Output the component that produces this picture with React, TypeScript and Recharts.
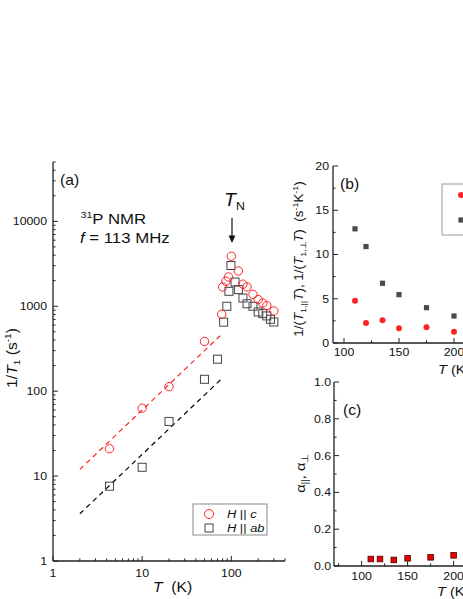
import React from 'react';
import { ComposedChart, Scatter, Line, XAxis, YAxis } from 'recharts';

const FONT = "Arial, 'Liberation Sans', Helvetica, sans-serif";
const SX = 1.12;
const TXT = '#111111';
const AXIS = '#222222';
const RED = '#ff2424';
const GRAY = '#444444';

// ---------- Panel (a): 1/T1 vs T (log-log) ----------
const tempHc = [4.3, 10, 20, 50, 78, 80, 87, 93, 100, 120, 135, 150, 175, 200, 225, 250, 300];
const rateHc = [21, 63, 113, 385, 805, 1690, 1970, 2210, 3880, 2600, 1820, 1690, 1380, 1200, 1090, 1020, 880];
const tempHab = [4.3, 10, 20, 50, 70, 82, 89, 94, 99, 110, 120, 135, 150, 175, 200, 225, 250, 275, 300];
const rateHab = [7.6, 12.7, 44, 138, 238, 650, 1000, 1500, 3020, 1930, 1570, 1250, 1070, 1000, 857, 820, 770, 703, 653];
const fitHcT = [2, 75];
const fitHcRate = [12, 450];
const fitHabT = [2, 80];
const fitHabRate = [3.6, 144];
const aXTicks = [1, 2, 3, 4, 5, 6, 7, 8, 9, 10, 20, 30, 40, 50, 60, 70, 80, 90, 100, 200, 300, 400];
const aXLabels = [1, 10, 100];
const aYTicks = [
  1, 2, 3, 4, 5, 6, 7, 8, 9, 10, 20, 30, 40, 50, 60, 70, 80, 90,
  100, 200, 300, 400, 500, 600, 700, 800, 900, 1000, 2000, 3000, 4000, 5000, 6000, 7000, 8000, 9000,
  10000, 20000, 30000, 40000, 50000,
];
const aYLabels = [1, 10, 100, 1000, 10000];

// ---------- Panel (b): 1/(T1 T) vs T ----------
const tempB = [110, 120, 135, 150, 175, 200];
const ratePar = [4.78, 2.26, 2.56, 1.66, 1.77, 1.28];
const ratePerp = [12.9, 10.9, 6.75, 5.46, 3.99, 3.05];
const bXTicks = [100, 125, 150, 175, 200, 225, 250, 275, 300];
const bXLabels = [100, 150, 200, 250, 300];
const bYTicks = [0, 2.5, 5, 7.5, 10, 12.5, 15, 17.5, 20];
const bYLabels = [0, 5, 10, 15, 20];

// ---------- Panel (c): alpha vs T ----------
const tempAlpha = [110, 120, 135, 150, 175, 200];
const alphaVals = [0.038, 0.038, 0.033, 0.042, 0.047, 0.058];
const cXTicks = [75, 100, 125, 150, 175, 200, 225, 250, 275, 300];
const cXLabels = [100, 150, 200, 250, 300];
const cYTicks = [0, 0.1, 0.2, 0.3, 0.4, 0.5, 0.6, 0.7, 0.8, 0.9, 1.0];
const cYLabels = [0, 0.2, 0.4, 0.6, 0.8, 1.0];

const zip = (xs: number[], ys: number[]) => xs.map((T, i) => ({ T, v: ys[i] }));

const Txt = ({ x, y, size, anchor = 'start', children }: any) => (
  <text
    transform={`translate(${x},${y}) scale(${SX},1)`}
    textAnchor={anchor}
    fontSize={size}
    fontFamily={FONT}
    fill={TXT}
  >
    {children}
  </text>
);

const VTxt = ({ x, y, size, children }: any) => (
  <text
    transform={`translate(${x},${y}) rotate(-90) scale(${SX},1)`}
    textAnchor="middle"
    fontSize={size}
    fontFamily={FONT}
    fill={TXT}
  >
    {children}
  </text>
);

const isIn = (arr: number[], v: number) => arr.some((l) => Math.abs(l - v) < 1e-9);

const makeTick =
  (side: 'bottom' | 'left' | 'top' | 'right', labels: number[], fmt: (v: number) => string, gap: number, size = 11) =>
  (props: any) => {
    const { x, y, payload } = props;
    const v = payload.value;
    const major = isIn(labels, v);
    const len = major ? 5 : 2.6;
    let line: any = null;
    if (side === 'bottom') line = <line x1={x} x2={x} y1={y} y2={y - len} stroke={AXIS} strokeWidth={1} />;
    if (side === 'top') line = <line x1={x} x2={x} y1={y} y2={y + len} stroke={AXIS} strokeWidth={1} />;
    if (side === 'left') line = <line x1={x} x2={x + len} y1={y} y2={y} stroke={AXIS} strokeWidth={1} />;
    if (side === 'right') line = <line x1={x} x2={x - len} y1={y} y2={y} stroke={AXIS} strokeWidth={1} />;
    let label: any = null;
    if (major && side === 'bottom')
      label = (
        <Txt x={x} y={y + gap} size={size} anchor="middle">
          {fmt(v)}
        </Txt>
      );
    if (major && side === 'left')
      label = (
        <Txt x={x - gap} y={y + size * 0.36} size={size} anchor="end">
          {fmt(v)}
        </Txt>
      );
    return (
      <g>
        {line}
        {label}
      </g>
    );
  };

const axisLine = { stroke: AXIS, strokeWidth: 1.3 };
const intFmt = (v: number) => String(v);
const oneDec = (v: number) => v.toFixed(1);

const openCircle = (props: any) => (
  <circle cx={props.cx} cy={props.cy} r={4.2} fill="none" stroke={RED} strokeWidth={1} />
);
const openSquare = (props: any) => (
  <rect x={props.cx - 4} y={props.cy - 4} width={8} height={8} fill="none" stroke={GRAY} strokeWidth={1} />
);
const dotRed = (props: any) => <circle cx={props.cx} cy={props.cy} r={3} fill={RED} stroke="none" />;
const dotGray = (props: any) => (
  <rect x={props.cx - 2.6} y={props.cy - 2.6} width={5.2} height={5.2} fill="#4a4a4a" stroke="none" />
);
const sqRed = (props: any) => (
  <rect x={props.cx - 2.8} y={props.cy - 2.8} width={5.6} height={5.6} fill="#e80000" stroke="#550000" strokeWidth={0.8} />
);

function PanelA() {
  return (
    <ComposedChart width={300} height={599} margin={{ top: 162, right: 15, bottom: 0, left: 0 }}>
      <XAxis
        dataKey="T"
        type="number"
        scale="log"
        domain={[1, 400]}
        allowDataOverflow
        ticks={aXTicks}
        interval={0}
        tickLine={false}
        tickSize={0}
        tickMargin={0}
        height={38}
        axisLine={axisLine}
        tick={makeTick('bottom', aXLabels, intFmt, 15.5)}
      />
      <XAxis
        xAxisId="top"
        orientation="top"
        type="number"
        scale="log"
        domain={[1, 400]}
        allowDataOverflow
        ticks={aXTicks}
        interval={0}
        tickLine={false}
        tickSize={0}
        tickMargin={0}
        height={0}
        axisLine={axisLine}
        tick={makeTick('top', aXLabels, intFmt, 0)}
      />
      <YAxis
        type="number"
        scale="log"
        domain={[1, 50000]}
        allowDataOverflow
        ticks={aYTicks}
        interval={0}
        tickLine={false}
        tickSize={0}
        tickMargin={0}
        width={53}
        axisLine={axisLine}
        tick={makeTick('left', aYLabels, intFmt, 6)}
      />
      <YAxis
        yAxisId="right"
        orientation="right"
        type="number"
        scale="log"
        domain={[1, 50000]}
        allowDataOverflow
        ticks={aYTicks}
        interval={0}
        tickLine={false}
        tickSize={0}
        tickMargin={0}
        width={0}
        axisLine={axisLine}
        tick={makeTick('right', aYLabels, intFmt, 0)}
      />
      <Line
        data={zip(fitHcT, fitHcRate)}
        dataKey="v"
        stroke={RED}
        strokeWidth={1.2}
        strokeDasharray="5 4"
        dot={false}
        isAnimationActive={false}
      />
      <Line
        data={zip(fitHabT, fitHabRate)}
        dataKey="v"
        stroke="#000"
        strokeWidth={1.2}
        strokeDasharray="5 4"
        dot={false}
        isAnimationActive={false}
      />
      <Scatter data={zip(tempHab, rateHab)} dataKey="v" shape={openSquare} isAnimationActive={false} />
      <Scatter data={zip(tempHc, rateHc)} dataKey="v" shape={openCircle} isAnimationActive={false} />

      <Txt x={60} y={184.5} size={14}>(a)</Txt>
      <Txt x={80.5} y={224} size={15}>
        <tspan fontSize={9.5} dy={-6}>31</tspan>
        <tspan dy={6}>P NMR</tspan>
      </Txt>
      <Txt x={80} y={243} size={15}>
        <tspan fontStyle="italic">f</tspan> = 113 MHz
      </Txt>
      <Txt x={224} y={206} size={17.5}>
        <tspan fontStyle="italic">T</tspan>
        <tspan fontSize={11} dy={4}>N</tspan>
      </Txt>
      <line x1={232} y1={218} x2={232} y2={238} stroke={TXT} strokeWidth={1.2} />
      <path d="M228.6,235.5 L235.4,235.5 L232,243 Z" fill={TXT} />

      <rect x={193} y={504} width={74} height={31} fill="#fff" stroke="#8a8a8a" strokeWidth={1} />
      <circle cx={209} cy={514} r={4.5} fill="none" stroke={RED} strokeWidth={1} />
      <Txt x={227} y={518.2} size={11.5}>
        <tspan fontStyle="italic">H</tspan> || <tspan fontStyle="italic">c</tspan>
      </Txt>
      <rect x={205} y={524} width={8} height={8} fill="none" stroke={GRAY} strokeWidth={1} />
      <Txt x={227} y={532.2} size={11.5}>
        <tspan fontStyle="italic">H</tspan> || <tspan fontStyle="italic">ab</tspan>
      </Txt>

      <VTxt x={16.5} y={358} size={14}>
        <tspan>1/</tspan>
        <tspan fontStyle="italic">T</tspan>
        <tspan fontSize={9} dy={3}>1</tspan>
        <tspan dy={-3}>{'\u00A0(s'}</tspan>
        <tspan fontSize={9} dy={-6}>-1</tspan>
        <tspan dy={6}>)</tspan>
      </VTxt>
      <Txt x={153} y={592} size={14}>
        <tspan fontStyle="italic">T</tspan>
        <tspan>{'\u00A0\u00A0(K)'}</tspan>
      </Txt>
    </ComposedChart>
  );
}

function PanelB() {
  // chart origin at page (290, 140)
  return (
    <ComposedChart width={300} height={240} margin={{ top: 26, right: 26, bottom: 0, left: 0 }}>
      <XAxis
        dataKey="T"
        type="number"
        domain={[90, 300]}
        allowDataOverflow
        ticks={bXTicks}
        interval={0}
        tickLine={false}
        tickSize={0}
        tickMargin={0}
        height={37}
        axisLine={axisLine}
        tick={makeTick('bottom', bXLabels, intFmt, 12.5)}
      />
      <XAxis
        xAxisId="top"
        orientation="top"
        type="number"
        domain={[90, 300]}
        allowDataOverflow
        ticks={bXTicks}
        interval={0}
        tickLine={false}
        tickSize={0}
        tickMargin={0}
        height={0}
        axisLine={axisLine}
        tick={makeTick('top', bXLabels, intFmt, 0)}
      />
      <YAxis
        type="number"
        domain={[0, 20]}
        allowDataOverflow
        ticks={bYTicks}
        interval={0}
        tickLine={false}
        tickSize={0}
        tickMargin={0}
        width={43}
        axisLine={axisLine}
        tick={makeTick('left', bYLabels, intFmt, 4)}
      />
      <YAxis
        yAxisId="right"
        orientation="right"
        type="number"
        domain={[0, 20]}
        allowDataOverflow
        ticks={bYTicks}
        interval={0}
        tickLine={false}
        tickSize={0}
        tickMargin={0}
        width={0}
        axisLine={axisLine}
        tick={makeTick('right', bYLabels, intFmt, 0)}
      />
      <Scatter data={zip(tempB, ratePerp)} dataKey="v" shape={dotGray} isAnimationActive={false} />
      <Scatter data={zip(tempB, ratePar)} dataKey="v" shape={dotRed} isAnimationActive={false} />

      <Txt x={50} y={49} size={14}>(b)</Txt>
      <rect x={152} y={44} width={200} height={51} fill="#fff" stroke="#9a9a9a" strokeWidth={1} />
      <circle cx={171} cy={55} r={3} fill={RED} />
      <rect x={168.4} y={77.4} width={5.2} height={5.2} fill="#4a4a4a" />

      <VTxt x={13} y={119} size={12}>
        <tspan>1/(</tspan>
        <tspan fontStyle="italic">T</tspan>
        <tspan fontSize={8} dy={3}>1,||</tspan>
        <tspan dy={-3} fontStyle="italic">T</tspan>
        <tspan>), 1/(</tspan>
        <tspan fontStyle="italic">T</tspan>
        <tspan fontSize={8} dy={3}>1,⊥</tspan>
        <tspan dy={-3} fontStyle="italic">T</tspan>
        <tspan>{')\u00A0\u00A0(s'}</tspan>
        <tspan fontSize={8} dy={-5}>-1</tspan>
        <tspan dy={5}>K</tspan>
        <tspan fontSize={8} dy={-5}>-1</tspan>
        <tspan dy={5}>)</tspan>
      </VTxt>
      <Txt x={148} y={234} size={13}>
        <tspan fontStyle="italic">T</tspan>
        <tspan> (K)</tspan>
      </Txt>
    </ComposedChart>
  );
}

function PanelC() {
  // chart origin at page (290, 370)
  return (
    <ComposedChart width={300} height={229} margin={{ top: 12, right: 26, bottom: 0, left: 0 }}>
      <XAxis
        dataKey="T"
        type="number"
        domain={[70, 320]}
        allowDataOverflow
        ticks={cXTicks}
        interval={0}
        tickLine={false}
        tickSize={0}
        tickMargin={0}
        height={33}
        axisLine={axisLine}
        tick={makeTick('bottom', cXLabels, intFmt, 13.5)}
      />
      <XAxis
        xAxisId="top"
        orientation="top"
        type="number"
        domain={[70, 320]}
        allowDataOverflow
        ticks={cXTicks}
        interval={0}
        tickLine={false}
        tickSize={0}
        tickMargin={0}
        height={0}
        axisLine={axisLine}
        tick={makeTick('top', cXLabels, intFmt, 0)}
      />
      <YAxis
        type="number"
        domain={[0, 1]}
        allowDataOverflow
        ticks={cYTicks}
        interval={0}
        tickLine={false}
        tickSize={0}
        tickMargin={0}
        width={44}
        axisLine={axisLine}
        tick={makeTick('left', cYLabels, oneDec, 3)}
      />
      <YAxis
        yAxisId="right"
        orientation="right"
        type="number"
        domain={[0, 1]}
        allowDataOverflow
        ticks={cYTicks}
        interval={0}
        tickLine={false}
        tickSize={0}
        tickMargin={0}
        width={0}
        axisLine={axisLine}
        tick={makeTick('right', cYLabels, oneDec, 0)}
      />
      <Scatter data={zip(tempAlpha, alphaVals)} dataKey="v" shape={sqRed} isAnimationActive={false} />

      <Txt x={53} y={45} size={14}>(c)</Txt>
      <VTxt x={15} y={103} size={13}>
        <tspan>α</tspan>
        <tspan fontSize={9} dy={3}>||</tspan>
        <tspan dy={-3}>, α</tspan>
        <tspan fontSize={9} dy={3}>⊥</tspan>
      </VTxt>
      <Txt x={147} y={226} size={13}>
        <tspan fontStyle="italic">T</tspan>
        <tspan> (K)</tspan>
      </Txt>
    </ComposedChart>
  );
}

export default function App() {
  return (
    <div
      style={{
        position: 'absolute',
        left: 0,
        top: 0,
        width: 463,
        height: 599,
        overflow: 'hidden',
        background: '#fff',
      }}
    >
      <div style={{ position: 'absolute', left: 0, top: 0 }}>
        <PanelA />
      </div>
      <div style={{ position: 'absolute', left: 290, top: 140 }}>
        <PanelB />
      </div>
      <div style={{ position: 'absolute', left: 290, top: 370 }}>
        <PanelC />
      </div>
    </div>
  );
}
